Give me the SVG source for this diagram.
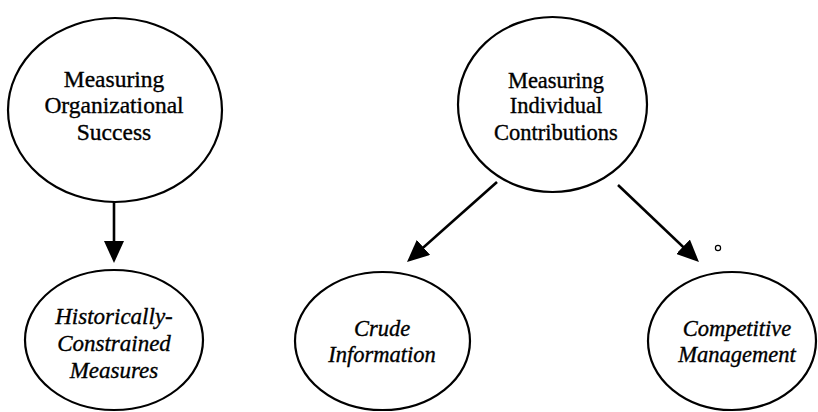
<svg xmlns="http://www.w3.org/2000/svg" width="818" height="412" viewBox="0 0 818 412">
<style>
.node{fill:#fff;stroke:#000;stroke-width:2.2}
.t{font-family:"Liberation Serif","Times New Roman",serif;fill:#000;stroke:#000;stroke-width:0.35;text-anchor:middle}
.i{font-style:italic}
.edge{stroke:#000;stroke-width:2.6;fill:none}
</style>
<defs>
<marker id="ah" viewBox="0 0 22 20" refX="16" refY="10" markerWidth="22" markerHeight="20" markerUnits="userSpaceOnUse" orient="auto">
<path d="M0,0 L22,10 L0,20 z" fill="#000"/>
</marker>
</defs>
<g id="connectors">
<line class="edge" x1="114" y1="202" x2="114" y2="257" marker-end="url(#ah)"/>
<line class="edge" x1="497" y1="182" x2="411.5" y2="258" marker-end="url(#ah)"/>
<line class="edge" x1="618" y1="185" x2="694.6" y2="257.8" marker-end="url(#ah)"/>
</g>
<g id="n-org">
<ellipse class="node" cx="115" cy="110" rx="107" ry="92"/>
<text class="t" font-size="23.5" x="114" y="87">Measuring</text>
<text class="t" font-size="23.5" x="114" y="113">Organizational</text>
<text class="t" font-size="23.5" x="114" y="140">Success</text>
</g>
<g id="n-ind">
<ellipse class="node" cx="552.5" cy="104.5" rx="94.5" ry="87.5"/>
<text class="t" font-size="22.5" x="556" y="88">Measuring</text>
<text class="t" font-size="22.5" x="556" y="113">Individual</text>
<text class="t" font-size="22.5" x="556" y="140">Contributions</text>
</g>
<g id="n-hist">
<ellipse class="node" cx="114" cy="340" rx="89" ry="70"/>
<text class="t i" font-size="23" x="114" y="324">Historically-</text>
<text class="t i" font-size="23" x="114" y="351">Constrained</text>
<text class="t i" font-size="23" x="114" y="378">Measures</text>
</g>
<g id="n-crude">
<ellipse class="node" cx="382.5" cy="341" rx="87.5" ry="69"/>
<text class="t i" font-size="22.5" x="382" y="336">Crude</text>
<text class="t i" font-size="22.5" x="382" y="362">Information</text>
</g>
<g id="n-comp">
<ellipse class="node" cx="732" cy="341" rx="84" ry="69"/>
<text class="t i" font-size="22.5" x="737" y="336">Competitive</text>
<text class="t i" font-size="22.5" x="737" y="362">Management</text>
</g>
<circle cx="718" cy="248" r="2.6" fill="none" stroke="#000" stroke-width="1.2"/>
</svg>
